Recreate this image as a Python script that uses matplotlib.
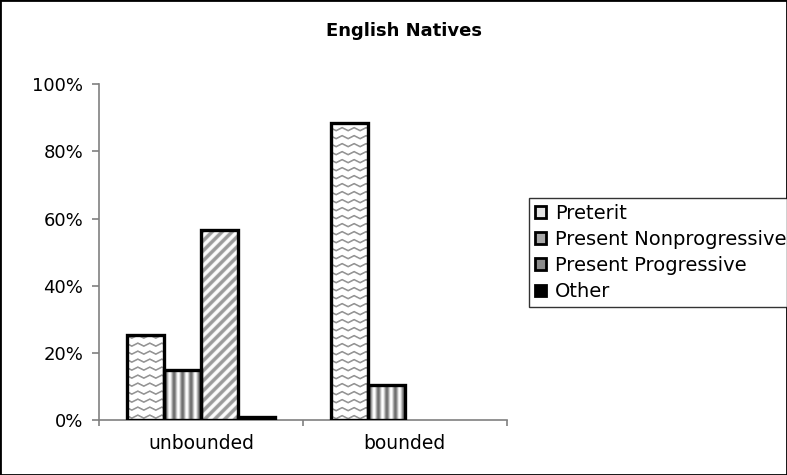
import numpy as np
import matplotlib
matplotlib.use("Agg")
import matplotlib.pyplot as plt
from matplotlib.patches import Patch, Rectangle

# Share of each verb form per aspect class (percent)
categories = ["unbounded", "bounded"]
series_names = ["Preterit", "Present Nonprogressive", "Present Progressive", "Other"]
preterit = [25.4, 88.3]
present_nonprogressive = [15.0, 10.5]
present_progressive = [56.6, 0.0]
other = [1.0, 0.0]
y_ticks = [0, 20, 40, 60, 80, 100]
y_tick_labels = ["0%", "20%", "40%", "60%", "80%", "100%"]
title = "English Natives"

series_values = [preterit, present_nonprogressive, present_progressive, other]
patterns = ["wave", "vstripe", "diag", "solid"]
legend_faces = ["#e4e4e4", "#a8a8a8", "#8c8c8c", "black"]

plt.rcParams["font.family"] = ["DejaVu Sans"]

W, H = 787, 475
fig = plt.figure(figsize=(W / 100, H / 100), dpi=100)
fig.patch.set_facecolor("white")

ax = fig.add_axes([99.3 / W, 1 - 420.3 / H, (506.7 - 99.3) / W, (420.3 - 84) / H])
ax.set_xlim(-0.5, 1.5)
ax.set_ylim(0, 100)

bar_w = 0.1816
x = np.arange(len(categories))
offsets = (np.arange(len(series_values)) - (len(series_values) - 1) / 2) * bar_w


def texture(kind, px, yd):
    """Grey-scale fill pattern evaluated on pixel coordinates."""
    if kind == "wave":
        period, spacing, amp = 12.0, 8.0, 3.0
        t = (px / period) % 1.0
        line = amp * np.abs(t - 0.5) * 2
        d = (yd - line) % spacing
        dist = np.minimum(d, spacing - d)
        return 1 - 0.42 * np.clip(1.4 - dist, 0, 1)
    if kind == "vstripe":
        return 0.72 + 0.28 * np.cos(2 * np.pi * px / 8.5)
    if kind == "diag":
        v = np.cos(2 * np.pi * (px + yd) / 10.0)
        return 0.8 + 0.2 * np.tanh(2.0 * v)
    return np.zeros_like(px)


containers = []
for i, (vals, kind) in enumerate(zip(series_values, patterns)):
    face = "black" if kind == "solid" else "none"
    bc = ax.bar(x + offsets[i], vals, bar_w, facecolor=face, edgecolor="black",
                linewidth=2.4, zorder=3, label=series_names[i])
    # empty bars leave no outline
    for rect in bc:
        if rect.get_height() <= 0:
            rect.set_visible(False)
    containers.append((bc, kind))

# Fill the patterned bars with their textures (drawn beneath the outlines)
for bc, kind in containers:
    if kind == "solid":
        continue
    for rect in bc:
        h = rect.get_height()
        if h <= 0:
            continue
        x0, y0 = rect.get_x(), rect.get_y()
        x1, y1 = x0 + rect.get_width(), y0 + h
        (X0, Y0), (X1, Y1) = ax.transData.transform([(x0, y0), (x1, y1)])
        nx, ny = max(int(np.ceil(X1 - X0)), 1), max(int(np.ceil(Y1 - Y0)), 1)
        px = X0 + np.arange(nx) + 0.5
        py = Y1 - np.arange(ny) - 0.5
        PX, PY = np.meshgrid(px, py)
        v = texture(kind, PX, H - PY)
        img = np.dstack([v, v, v])
        ax.imshow(img, extent=(x0, x1, y0, y1), aspect="auto",
                  interpolation="bilinear", zorder=2)

ax.set_xlim(-0.5, 1.5)
ax.set_ylim(0, 100)

# Axes styling
for s in ["top", "right"]:
    ax.spines[s].set_visible(False)
for s in ["left", "bottom"]:
    ax.spines[s].set_color("#808080")
    ax.spines[s].set_linewidth(1.2)

ax.set_yticks(y_ticks)
ax.set_yticklabels(y_tick_labels, fontsize=13)
ax.tick_params(axis="y", direction="out", length=5, width=1.2, color="#808080", pad=6.5)

ax.set_xticks([-0.5, 0.5, 1.5])
ax.set_xticklabels([])
ax.tick_params(axis="x", which="major", direction="out", length=4, width=1.2, color="#808080")
ax.set_xticks(x, minor=True)
ax.set_xticklabels(categories, minor=True, fontsize=13.5)
ax.tick_params(axis="x", which="minor", length=0, pad=10)

fig.text(404 / W, 1 - 31 / H, title, ha="center", va="center",
         fontsize=13, fontweight="bold")

handles = [Patch(facecolor=fc, edgecolor="black", linewidth=2.0) for fc in legend_faces]
leg = fig.legend(handles, series_names, loc="upper left",
                 bbox_to_anchor=(529 / W, 1 - 198 / H), fontsize=14,
                 frameon=True, fancybox=False, borderpad=0.3,
                 handlelength=0.55, handleheight=0.55, handletextpad=0.5,
                 labelspacing=0.37, borderaxespad=0)
leg.get_frame().set_edgecolor("black")
leg.get_frame().set_linewidth(1.0)

fig.patches.append(Rectangle((0, 0), 1, 1, transform=fig.transFigure,
                             fill=False, edgecolor="black", linewidth=2.0))

fig.savefig("out.png", dpi=100, facecolor="white")
